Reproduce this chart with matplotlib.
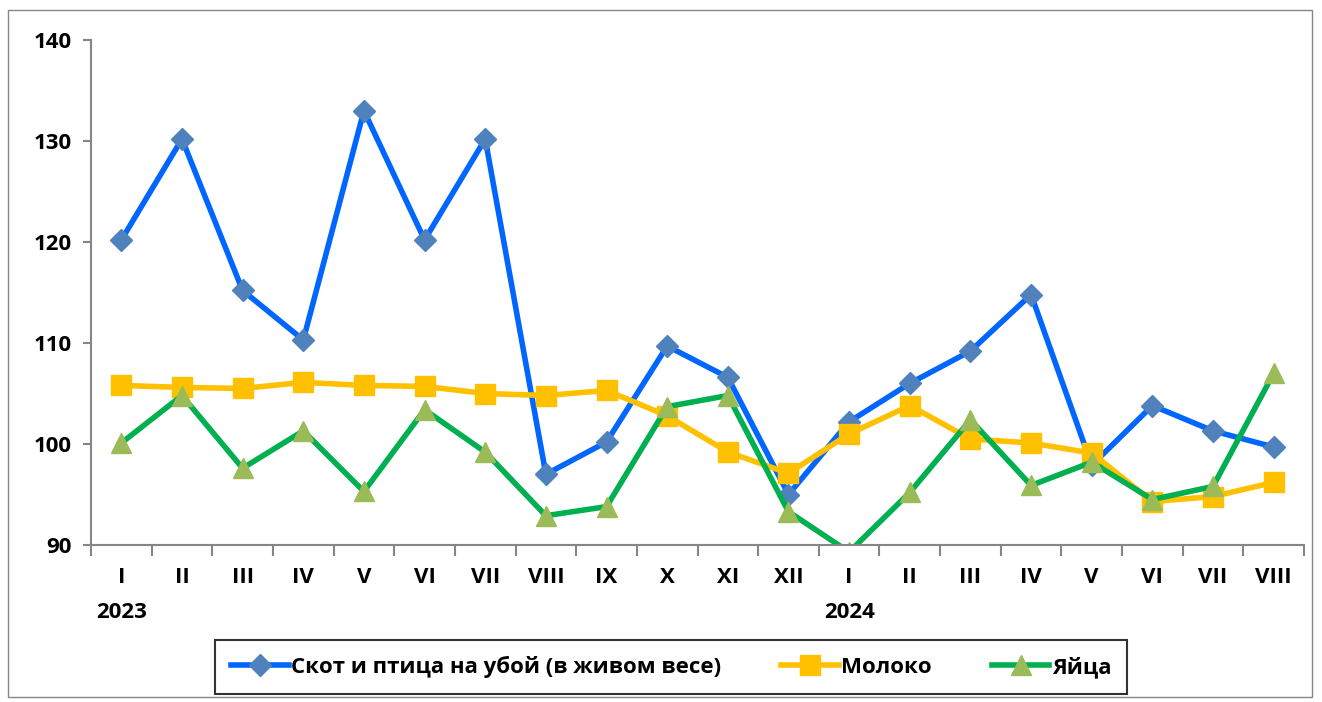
import matplotlib.pyplot as plt
from matplotlib.patches import Rectangle

plt.rcParams['font.family'] = ['Open Sans', 'DejaVu Sans']
plt.rcParams['font.weight'] = 'bold'

months = ['I', 'II', 'III', 'IV', 'V', 'VI', 'VII', 'VIII', 'IX', 'X', 'XI', 'XII',
          'I', 'II', 'III', 'IV', 'V', 'VI', 'VII', 'VIII']
years = {0: '2023', 12: '2024'}

skot = [120.2, 130.2, 115.2, 110.3, 133.0, 120.2, 130.2, 97.0, 100.2, 109.7, 106.6, 95.0,
        102.2, 106.0, 109.2, 114.8, 97.9, 103.8, 101.3, 99.7]
moloko = [105.8, 105.6, 105.5, 106.1, 105.8, 105.7, 105.0, 104.8, 105.3, 102.8, 99.2, 97.1,
          101.0, 103.8, 100.5, 100.1, 99.1, 94.3, 94.8, 96.2]
yaitsa = [100.1, 104.8, 97.6, 101.3, 95.3, 103.4, 99.2, 92.9, 93.8, 103.7, 104.8, 93.3,
          89.3, 95.2, 102.4, 95.9, 98.2, 94.5, 95.8, 107.0]

fig = plt.figure(figsize=(13.22, 7.02), dpi=100)
ax = fig.add_axes([91 / 1322, 1 - 545 / 702, 1213 / 1322, 505 / 702])

x = list(range(len(months)))
ax.plot(x, skot, color='#0066FF', lw=4, marker='D', ms=11, mfc='#4F81BD', mec='#4F81BD',
        label='Скот и птица на убой (в живом весе)')
ax.plot(x, moloko, color='#FFC000', lw=4, marker='s', ms=15, mfc='#FFC000', mec='#FFC000',
        label='Молоко')
ax.plot(x, yaitsa, color='#00B050', lw=4, marker='^', ms=15, mfc='#9BBB59', mec='#9BBB59',
        label='Яйца')

ax.set_xlim(-0.5, len(months) - 0.5)
ax.set_ylim(90, 140)
ax.set_yticks(range(90, 141, 10))
ax.tick_params(axis='y', labelsize=16, length=6, color='#868686', width=1.5, pad=8)
ax.set_xticks([i + 0.5 for i in range(-1, len(months))], minor=False)
ax.set_xticklabels([])
ax.tick_params(axis='x', length=8, color='#868686', width=1.5)
ax.set_xticks(x, minor=True)
ax.set_xticklabels(months, minor=True)
ax.tick_params(axis='x', which='minor', length=0, labelsize=16, pad=16)
for t in ax.get_xticklabels(minor=True) + ax.get_yticklabels():
    t.set_fontweight('bold')

for i, yr in years.items():
    ax.text(i, -0.112, yr, transform=ax.get_xaxis_transform(), ha='center', va='top',
            fontsize=16, fontweight='bold')

for s in ['top', 'right']:
    ax.spines[s].set_visible(False)
for s in ['left', 'bottom']:
    ax.spines[s].set_color('#868686')
    ax.spines[s].set_linewidth(1.5)

leg = fig.legend(loc='center', bbox_to_anchor=(671 / 1322, 1 - 667 / 702), ncol=3,
                 prop={'size': 16, 'weight': 'bold'}, frameon=True, fancybox=False,
                 handlelength=2.6, handletextpad=0.1, columnspacing=2.7, borderpad=0.7,
                 borderaxespad=0)
leg.get_frame().set_edgecolor('black')
leg.get_frame().set_linewidth(1.5)

fig.patches.append(Rectangle((8 / 1322, 1 - 697 / 702), 1304 / 1322, 687 / 702,
                             transform=fig.transFigure, fill=False, edgecolor='#868686', lw=1))

fig.savefig('out.png', dpi=100)
